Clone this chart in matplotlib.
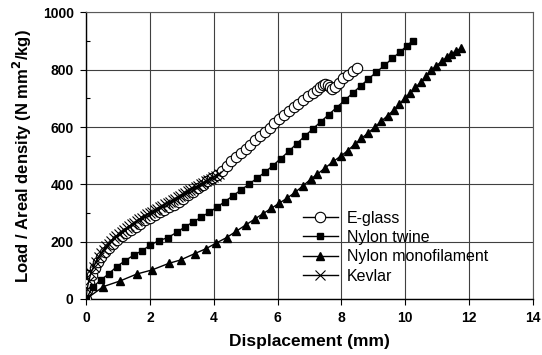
"""Load per areal density vs displacement for four yarn materials."""

import matplotlib

matplotlib.use("Agg")
from matplotlib import pyplot as plt
from matplotlib.ticker import MultipleLocator

# E-glass
glass_x = [0, 0.04, 0.1, 0.18, 0.27, 0.37, 0.48, 0.6, 0.72, 0.85,
           0.98, 1.12, 1.26, 1.4, 1.55, 1.7, 1.85, 2.0, 2.15, 2.3,
           2.45, 2.6, 2.75, 2.9, 3.05, 3.2, 3.35, 3.5, 3.65, 3.8,
           3.95, 4.1, 4.25, 4.4, 4.55, 4.7, 4.85, 5.0, 5.15, 5.3,
           5.45, 5.6, 5.75, 5.9, 6.05, 6.2, 6.35, 6.5, 6.65, 6.8,
           6.95, 7.1, 7.22, 7.33, 7.42, 7.5, 7.57, 7.63, 7.7, 7.8,
           7.92, 8.05, 8.2, 8.35, 8.5]
glass_y = [0, 30, 55, 82, 107, 128, 147, 163, 177, 190,
           205, 218, 230, 241, 252, 263, 274, 284, 293, 302,
           311, 320, 329, 338, 350, 362, 374, 386, 398, 410,
           422, 434, 448, 464, 480, 495, 510, 524, 538, 553,
           568, 583, 598, 613, 628, 642, 656, 669, 682, 695,
           707, 719, 729, 739, 746, 750, 746, 738, 732, 740,
           755, 770, 782, 794, 805]

# Nylon twine
twine_x = [0, 0.2, 0.45, 0.7, 0.96, 1.23, 1.49, 1.75, 2.01, 2.27,
           2.56, 2.85, 3.1, 3.35, 3.6, 3.85, 4.1, 4.35, 4.6, 4.85,
           5.1, 5.35, 5.6, 5.85, 6.1, 6.35, 6.6, 6.85, 7.1, 7.35,
           7.6, 7.85, 8.1, 8.35, 8.6, 8.85, 9.1, 9.35, 9.6, 9.85,
           10.05, 10.24]
twine_y = [0, 41, 65, 87, 113, 134, 153, 168, 188, 203,
           214, 233, 252, 268, 285, 302, 320, 340, 360, 380,
           400, 421, 442, 465, 490, 515, 542, 568, 593, 618,
           643, 668, 693, 718, 743, 768, 792, 815, 840, 863,
           883, 902]

# Nylon monofilament
mono_x = [0, 0.54, 1.07, 1.59, 2.06, 2.59, 2.96, 3.4, 3.75, 4.06,
          4.4, 4.7, 5.0, 5.3, 5.55, 5.8, 6.05, 6.3, 6.55, 6.8,
          7.04, 7.25, 7.5, 7.75, 8.0, 8.2, 8.42, 8.62, 8.85, 9.05,
          9.25, 9.45, 9.65, 9.82, 9.98, 10.15, 10.32, 10.5, 10.66, 10.82,
          10.98, 11.15, 11.3, 11.45, 11.6, 11.76]
mono_y = [0, 43, 63, 87, 101, 124, 136, 158, 175, 194,
          214, 236, 258, 280, 298, 316, 334, 352, 372, 395,
          418, 436, 458, 480, 500, 518, 540, 560, 580, 600,
          620, 640, 660, 680, 700, 718, 738, 758, 778, 798,
          814, 830, 843, 855, 866, 875]

# Kevlar
kevlar_x = [0, 0.03, 0.08, 0.15, 0.23, 0.31, 0.39, 0.47, 0.55, 0.63,
            0.71, 0.79, 0.87, 0.95, 1.03, 1.11, 1.19, 1.27, 1.35, 1.43,
            1.51, 1.59, 1.67, 1.75, 1.83, 1.91, 1.99, 2.07, 2.15, 2.23,
            2.31, 2.39, 2.47, 2.55, 2.63, 2.71, 2.79, 2.87, 2.95, 3.03,
            3.11, 3.19, 3.27, 3.35, 3.43, 3.51, 3.59, 3.67, 3.75, 3.83,
            3.91, 3.99, 4.07, 4.15]
kevlar_y = [0, 35, 62, 90, 112, 130, 146, 160, 172, 183,
            193, 202, 211, 219, 227, 234, 241, 248, 254, 260,
            266, 272, 278, 284, 290, 295, 300, 305, 310, 315,
            320, 325, 330, 335, 340, 345, 350, 355, 360, 365,
            370, 375, 380, 385, 390, 395, 400, 405, 410, 415,
            420, 425, 430, 436]

x_ticks = [0, 2, 4, 6, 8, 10, 12, 14]
y_ticks = [0, 200, 400, 600, 800, 1000]

plt.rcParams["font.family"] = ["Liberation Sans", "DejaVu Sans"]


def main():
    fig = plt.figure(figsize=(5.42, 3.55), dpi=100)
    ax = fig.add_axes([0.159, 0.158, 0.824, 0.807])

    ax.plot(glass_x, glass_y, color="black", lw=1, marker="o", ms=7.5,
            mfc="white", mec="black", mew=0.8, label="E-glass", zorder=3)
    ax.plot(twine_x, twine_y, color="black", lw=1, marker="s", ms=5,
            mfc="black", mec="black", label="Nylon twine", zorder=3)
    ax.plot(mono_x, mono_y, color="black", lw=1, marker="^", ms=6,
            mfc="black", mec="black", label="Nylon monofilament", zorder=3)
    ax.plot(kevlar_x, kevlar_y, color="black", lw=1, marker="x", ms=7.5,
            mew=0.8, label="Kevlar", zorder=4)

    ax.set_xlim(0, 14)
    ax.set_ylim(0, 1000)
    ax.set_xticks(x_ticks)
    ax.set_yticks(y_ticks)
    ax.yaxis.set_minor_locator(MultipleLocator(100))
    ax.tick_params(axis="both", which="major", direction="out", length=4,
                   width=0.8, labelsize=10, pad=5)
    ax.tick_params(axis="y", which="minor", direction="in", length=3,
                   width=0.8)
    for lbl in ax.get_xticklabels() + ax.get_yticklabels():
        lbl.set_fontweight("bold")

    ax.grid(True, which="major", color="0.25", lw=0.8)
    ax.set_axisbelow(True)
    for side in ("top", "right"):
        ax.spines[side].set_color("0.35")
        ax.spines[side].set_linewidth(0.8)
    for side in ("left", "bottom"):
        ax.spines[side].set_linewidth(1.0)

    ax.set_xlabel("Displacement (mm)", fontsize=12.5, fontweight="bold",
                  labelpad=6)
    ax.set_ylabel("Load / Areal density (N mm$^\\mathbf{2}$/kg)",
                  fontsize=12, fontweight="bold", labelpad=6)

    ax.legend(loc="center left", bbox_to_anchor=(0.485, 0.181), frameon=False,
              fontsize=11.5, handlelength=2.2, handletextpad=0.55,
              labelspacing=0.27, borderaxespad=0, borderpad=0)

    fig.savefig("out.png", dpi=100)


if __name__ == "__main__":
    main()
